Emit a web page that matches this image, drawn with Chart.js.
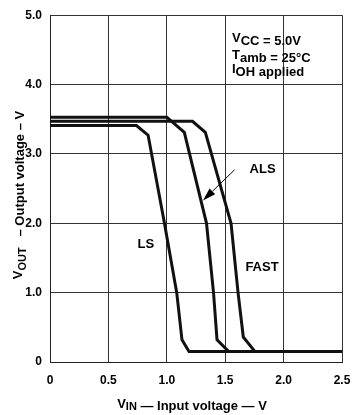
<!DOCTYPE html>
<html>
<head>
<meta charset="utf-8">
<script src="https://cdn.jsdelivr.net/npm/chart.js@4/dist/chart.umd.min.js"></script>
<style>
  html, body { margin: 0; padding: 0; background: #fff; }
  canvas { display: block; }
</style>
</head>
<body>
<canvas id="chart" width="352" height="415"></canvas>
<script>
// curves (V_IN in volts, V_OUT in volts)
var lsX = [0, 0.74, 0.84, 0.98, 1.085, 1.13, 1.19, 2.5];
var lsY = [3.41, 3.41, 3.27, 2.0, 1.0, 0.32, 0.15, 0.15];

var alsX = [0, 1.0, 1.15, 1.34, 1.40, 1.43, 1.53, 2.5];
var alsY = [3.53, 3.53, 3.31, 2.0, 1.0, 0.32, 0.15, 0.15];

var fastX = [0, 1.22, 1.33, 1.55, 1.61, 1.655, 1.755, 2.5];
var fastY = [3.47, 3.47, 3.31, 2.0, 1.0, 0.36, 0.15, 0.15];

var xTickLabels = ["0", "0.5", "1.0", "1.5", "2.0", "2.5"];
var yTickLabels = ["0", "1.0", "2.0", "3.0", "4.0", "5.0"];

// curve labels and the ALS arrow, in data units
var curveLabels = [
    { text: "ALS", x: 1.82, y: 2.77 },
    { text: "LS", x: 0.82, y: 1.70 },
    { text: "FAST", x: 1.815, y: 1.37 }
];
var arrowFrom = { x: 1.58, y: 2.77 };
var arrowTo = { x: 1.31, y: 2.33 };

var FONT = "'Liberation Sans', Arial, Helvetica, sans-serif";
Chart.defaults.font.family = FONT;
Chart.defaults.color = "#000";

function toPoints(xs, ys) {
    var pts = [];
    for (var i = 0; i < xs.length; i++) {
        pts.push({ x: xs[i], y: ys[i] });
    }
    return pts;
}

function lineSet(label, xs, ys) {
    return {
        label: label,
        data: toPoints(xs, ys),
        borderColor: "#111",
        borderWidth: 3,
        pointRadius: 0,
        fill: false,
        tension: 0,
        borderJoinStyle: "miter"
    };
}

// draw a run of text pieces, each with its own vertical shift / size
function drawRuns(ctx, x, y, runs, align) {
    var total = 0;
    runs.forEach(function (r) {
        ctx.font = "bold " + r.size + "px " + FONT;
        r.w = ctx.measureText(r.t).width;
        total += r.w;
    });
    var cx = align === "center" ? x - total / 2 : x;
    runs.forEach(function (r) {
        ctx.font = "bold " + r.size + "px " + FONT;
        ctx.fillText(r.t, cx, y + (r.dy || 0));
        cx += r.w;
    });
}

var annotations = {
    id: "annotations",
    afterDraw: function (chart) {
        var ctx = chart.ctx;
        var xs = chart.scales.x, ys = chart.scales.y;
        var area = chart.chartArea;
        ctx.save();
        ctx.fillStyle = "#000";
        ctx.strokeStyle = "#000";
        ctx.textBaseline = "middle";
        ctx.textAlign = "center";
        ctx.font = "bold 13px " + FONT;
        curveLabels.forEach(function (l) {
            ctx.fillText(l.text, xs.getPixelForValue(l.x), ys.getPixelForValue(l.y));
        });

        // arrow to ALS curve
        var x1 = xs.getPixelForValue(arrowFrom.x), y1 = ys.getPixelForValue(arrowFrom.y);
        var x2 = xs.getPixelForValue(arrowTo.x), y2 = ys.getPixelForValue(arrowTo.y);
        var ang = Math.atan2(y2 - y1, x2 - x1);
        var hl = 13, hw = 4;
        var bx = x2 - hl * Math.cos(ang), by = y2 - hl * Math.sin(ang);
        ctx.lineWidth = 1;
        ctx.beginPath();
        ctx.moveTo(x1, y1);
        ctx.lineTo(bx, by);
        ctx.stroke();
        ctx.beginPath();
        ctx.moveTo(x2, y2);
        ctx.lineTo(bx + hw * Math.sin(ang), by - hw * Math.cos(ang));
        ctx.lineTo(bx - hw * Math.sin(ang), by + hw * Math.cos(ang));
        ctx.closePath();
        ctx.fill();

        // conditions box
        ctx.textAlign = "left";
        ctx.textBaseline = "alphabetic";
        var lx = 232;
        drawRuns(ctx, lx, 45, [
            { t: "V", size: 13, dy: -3 }, { t: "CC", size: 13 }, { t: " = 5.0V", size: 13 }
        ], "left");
        drawRuns(ctx, lx, 62, [
            { t: "T", size: 13, dy: -3 }, { t: "amb", size: 13 }, { t: " = 25\u00B0C", size: 13 }
        ], "left");
        drawRuns(ctx, lx, 76, [
            { t: "I", size: 13, dy: -3 }, { t: "OH", size: 13 }, { t: " applied", size: 13 }
        ], "left");

        // x axis title
        drawRuns(ctx, (area.left + area.right) / 2 - 4, 410, [
            { t: "V", size: 13, dy: -2 }, { t: "IN", size: 11 }, { t: " \u2014 Input voltage \u2014 V", size: 13 }
        ], "center");

        // y axis title
        ctx.translate(24, 195);
        ctx.rotate(-Math.PI / 2);
        drawRuns(ctx, 0, 0, [
            { t: "V", size: 13, dy: -2 }, { t: "OUT", size: 11, dy: 2 }, { t: "   \u2013 Output voltage \u2013 V", size: 13 }
        ], "center");
        ctx.restore();
    }
};

new Chart(document.getElementById("chart"), {
    type: "line",
    data: {
        datasets: [
            lineSet("LS", lsX, lsY),
            lineSet("ALS", alsX, alsY),
            lineSet("FAST", fastX, fastY)
        ]
    },
    options: {
        responsive: false,
        animation: false,
        layout: { padding: { left: 0, right: 0, top: 15, bottom: 0 } },
        plugins: {
            legend: { display: false },
            tooltip: { enabled: false }
        },
        scales: {
            x: {
                type: "linear",
                min: 0,
                max: 2.5,
                afterFit: function (s) { s.height = 53; s.paddingRight = 10; },
                border: { display: true, color: "#222", width: 1 },
                grid: { color: "#333", lineWidth: 1, drawTicks: false },
                ticks: {
                    stepSize: 0.5,
                    padding: 11,
                    font: { size: 12, weight: "bold" },
                    callback: function (v) {
                        var i = Math.round(v / 0.5);
                        return xTickLabels[i];
                    }
                }
            },
            y: {
                min: 0,
                max: 5,
                afterFit: function (s) { s.width = 50; },
                border: { display: true, color: "#222", width: 1 },
                grid: { color: "#333", lineWidth: 1, drawTicks: false },
                ticks: {
                    stepSize: 1,
                    padding: 8,
                    font: { size: 12, weight: "bold" },
                    callback: function (v) {
                        return yTickLabels[Math.round(v)];
                    }
                }
            }
        }
    },
    plugins: [annotations]
});
</script>
</body>
</html>
